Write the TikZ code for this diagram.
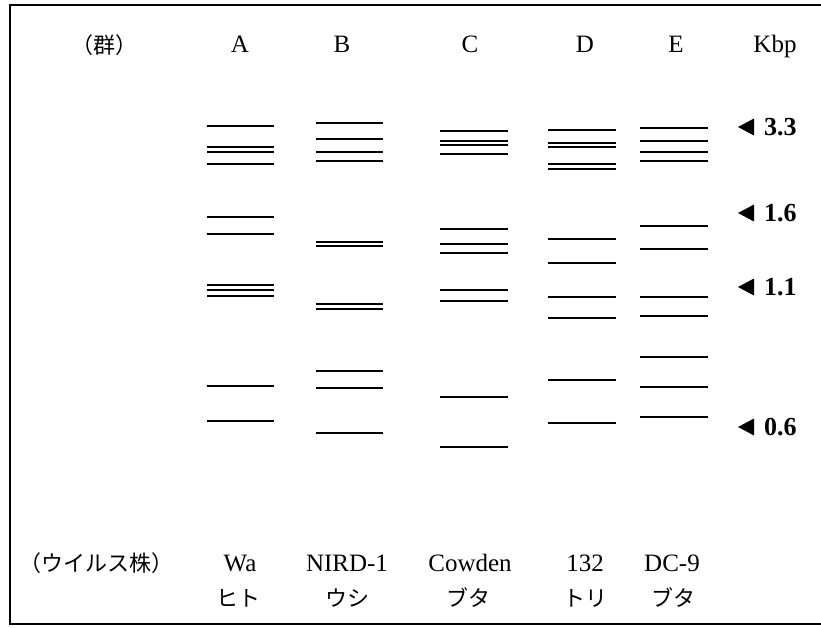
\documentclass[tikz,border=0pt]{standalone}
\usepackage{fontspec}
\setmainfont{Liberation Serif}
\newfontfamily\jpfont{Noto Sans CJK JP}

\begin{document}
\begin{tikzpicture}[
			x=1pt,
			y=-1pt,
			font=\fontsize{25}{28}\selectfont,
			band/.style={line width=1.5pt},
			frame/.style={line width=1.2pt},
			head/.style={anchor=base, inner sep=0pt},
			jp/.style={font=\fontsize{22}{24}\selectfont\jpfont, inner sep=0pt},
			size/.style={font=\fontsize{26}{28}\selectfont\bfseries, anchor=west, inner sep=0pt}
		]
			\useasboundingbox (0,0) rectangle (821,628);
			\draw[frame] (821,5) -- (10,5) -- (10,624) -- (821,624);

			% group row
			\node[jp] (grp) at (104,45) {（群）};
			\node[head] (hA) at (240,53) {A};
			\node[head] (hB) at (342,53) {B};
			\node[head] (hC) at (470,53) {C};
			\node[head] (hD) at (585,53) {D};
			\node[head] (hE) at (676,53) {E};
			\node[head] (kbp) at (775,53) {Kbp};

			% lane A
			\draw[band] (207,126) -- (274,126) (207,147) -- (274,147) (207,152) -- (274,152) (207,164) -- (274,164)
				(207,217) -- (274,217) (207,234) -- (274,234)
				(207,285) -- (274,285) (207,290) -- (274,290) (207,296) -- (274,296)
				(207,386) -- (274,386) (207,421) -- (274,421);
			% lane B
			\draw[band] (316,123) -- (383,123) (316,139) -- (383,139) (316,152) -- (383,152) (316,161) -- (383,161)
				(316,242) -- (383,242) (316,246) -- (383,246)
				(316,304) -- (383,304) (316,309) -- (383,309)
				(316,371) -- (383,371) (316,388) -- (383,388) (316,433) -- (383,433);
			% lane C
			\draw[band] (440,131) -- (508,131) (440,141) -- (508,141) (440,145) -- (508,145) (440,154) -- (508,154)
				(440,229) -- (508,229) (440,244) -- (508,244) (440,253) -- (508,253)
				(440,290) -- (508,290) (440,301) -- (508,301)
				(440,397) -- (508,397) (440,447) -- (508,447);
			% lane D
			\draw[band] (548,130) -- (616,130) (548,143) -- (616,143) (548,147) -- (616,147) (548,164) -- (616,164) (548,169) -- (616,169)
				(548,239) -- (616,239) (548,263) -- (616,263)
				(548,297) -- (616,297) (548,318) -- (616,318)
				(548,380) -- (616,380) (548,423) -- (616,423);
			% lane E
			\draw[band] (640,128) -- (708,128) (640,141) -- (708,141) (640,152) -- (708,152) (640,161) -- (708,161)
				(640,226) -- (708,226) (640,249) -- (708,249)
				(640,297) -- (708,297) (640,316) -- (708,316)
				(640,357) -- (708,357) (640,387) -- (708,387) (640,417) -- (708,417);

			% size markers
			\node[size] (m33) at (764,127) {3.3};
			\node[size] (m16) at (764,213) {1.6};
			\node[size] (m11) at (764,287) {1.1};
			\node[size] (m06) at (764,427) {0.6};
			\fill ([xshift=-26pt]m33.west) -- ++(16,-8.5) -- ++(0,17) -- cycle;
			\fill ([xshift=-26pt]m16.west) -- ++(16,-8.5) -- ++(0,17) -- cycle;
			\fill ([xshift=-26pt]m11.west) -- ++(16,-8.5) -- ++(0,17) -- cycle;
			\fill ([xshift=-26pt]m06.west) -- ++(16,-8.5) -- ++(0,17) -- cycle;

			% strain row
			\node[jp] (vir) at (96,563) {（ウイルス株）};
			\node[head] (sA) at (240,571) {Wa};
			\node[head] (sB) at (347,571) {NIRD-1};
			\node[head] (sC) at (470,571) {Cowden};
			\node[head] (sD) at (585,571) {132};
			\node[head] (sE) at (672,571) {DC-9};

			\node[jp] (tA) at (238,598) {ヒト};
			\node[jp] (tB) at (347,598) {ウシ};
			\node[jp] (tC) at (468,598) {ブタ};
			\node[jp] (tD) at (585,598) {トリ};
			\node[jp] (tE) at (673,598) {ブタ};
		\end{tikzpicture}
\end{document}
